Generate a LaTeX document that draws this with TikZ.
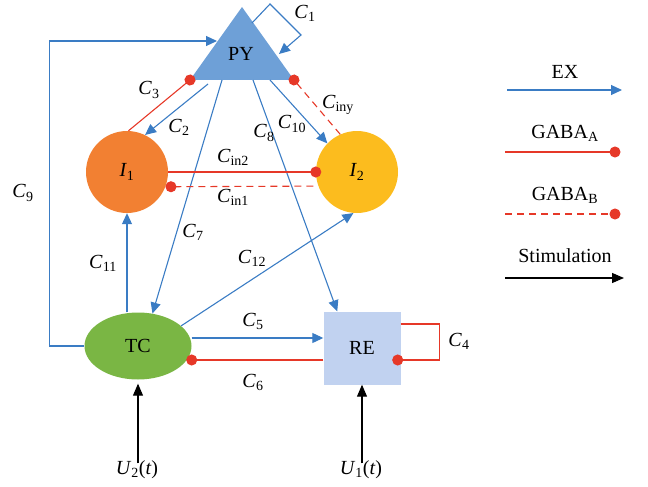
\documentclass[tikz,border=0pt]{standalone}
\usepackage{fontspec}
\setmainfont{Liberation Serif}
\usepackage{tikz}
\usetikzlibrary{arrows.meta}
\usetikzlibrary{shapes.geometric}
\definecolor{exblue}{RGB}{58,124,196}
\definecolor{gabred}{RGB}{230,56,40}
\definecolor{pycol}{RGB}{110,160,215}
\definecolor{inone}{RGB}{242,128,50}
\definecolor{intwo}{RGB}{252,188,30}
\definecolor{tccol}{RGB}{122,182,68}
\definecolor{recol}{RGB}{193,210,240}
\newcommand{\cn}[1]{\textit{C}\textsubscript{#1}}
\newcommand{\un}[1]{\textit{U}\textsubscript{#1}(\textit{t})}
\tikzset{
  ex/.style={draw=exblue, line width=1.1pt, -{Triangle[length=11pt,width=10pt]}},
  gabaa/.style={draw=gabred, line width=1.1pt, -{Circle[length=11pt]}, shorten >=-5.5pt},
  gabab/.style={gabaa, dash pattern=on 7pt off 5pt},
  stim/.style={line width=1.1pt, -{Triangle[length=12pt,width=10pt]}},
  popnode/.style={inner sep=0pt, minimum size=82pt, circle}
}

\begin{document}
\begin{tikzpicture}[x=1pt, y=-1pt, every node/.style={font=\fontsize{20}{24}\selectfont}]
\useasboundingbox (0,0) rectangle (648,487);

  % populations
  \coordinate (pytop) at (242,7);
  \coordinate (pyl) at (190,80);
  \coordinate (pyr) at (294,80);
  \fill[pycol] (pytop) -- (pyr) -- (pyl) -- cycle;
  \node (PY) at (241,54) {PY};
  \node[popnode, fill=inone] (I1) at (127,172) {\textit{I}\textsubscript{1}};
  \node[popnode, fill=intwo] (I2) at (357,172) {\textit{I}\textsubscript{2}};
  \node[ellipse, inner sep=0pt, minimum width=107pt, minimum height=67pt, fill=tccol] (TC) at (138,346) {TC};
  \node[rectangle, inner sep=0pt, minimum width=77pt, minimum height=73pt, fill=recol] (RE) at (362,348) {RE};

  % ports on the PY base
  \coordinate (pyc2) at (208,84);
  \coordinate (pyc7) at (222,80);
  \coordinate (pyc8) at (253,80);
  \coordinate (pyc10) at (270,80);
  \coordinate (pyc9) at (217,41);

  % self loop C1
  \coordinate (c1s) at (252,23);
  \coordinate (c1a) at (270,4);
  \coordinate (c1b) at (301,35);
  \coordinate (c1e) at (279,54);
  \draw[ex] (c1s) -- (c1a) -- (c1b) -- (c1e);
  \node (lc1) at (305,13) {\cn{1}};

  % PY connections
  \draw[gabaa] (I1.88) -- (pyl);
  \node (lc3) at (149,90) {\cn{3}};
  \draw[ex] (pyc2) -- (I1.64);
  \node (lc2) at (179,127) {\cn{2}};
  \draw[ex] (pyc7) -- (TC.66);
  \node (lc7) at (193,232) {\cn{7}};
  \draw[ex] (pyc8) -- (RE.124);
  \node (lc8) at (264,133) {\cn{8}};
  \draw[ex] (pyc10) -- (I2.136);
  \node (lc10) at (292,124) {\cn{10}};
  \draw[gabab] (I2.114) -- (pyr);
  \node (lciny) at (338,105) {\cn{iny}};
  \draw[ex] (TC.west) -- ++(-35,0) |- (pyc9);
  \node (lc9) at (23,193) {\cn{9}};

  % interneurons
  \draw[gabaa] (I1.east) -- (I2.west);
  \node (lcin2) at (233,157) {\cn{in2}};
  \draw[gabab, shorten >=0pt] ([xshift=-5pt]I2.200) -- (I1.-21);
  \node (lcin1) at (233,197) {\cn{in1}};

  % thalamus
  \draw[ex] (TC.north -| I1.south) -- (I1.south);
  \node (lc11) at (103,263) {\cn{11}};
  \draw[ex] (TC.25) -- (I2.265);
  \node (lc12) at (252,258) {\cn{12}};
  \draw[ex] ([yshift=8pt]TC.east) -- ([yshift=8pt]TC.east -| RE.west);
  \node (lc5) at (253,321) {\cn{5}};
  \draw[gabaa] ([yshift=-12pt]RE.west) -- ([yshift=-12pt]RE.west -| TC.east);
  \node (lc6) at (253,382) {\cn{6}};
  \draw[gabaa] ([yshift=24pt]RE.east) -- ++(39,0) |- ([yshift=-12pt,xshift=-3pt]RE.east);
  \node (lc4) at (459,341) {\cn{4}};

  % inputs
  \node (U2) at (137,470) {\un{2}};
  \node (U1) at (361,470) {\un{1}};
  \draw[stim] ([yshift=-6pt]U2.north -| TC.south) -- ([yshift=-4pt]TC.south);
  \draw[stim] ([yshift=-6pt]U1.north -| RE.south) -- (RE.south);

  % legend
  \node (lgex) at (565,72) {EX};
  \coordinate (exa) at (507,90);
  \coordinate (exb) at (622,90);
  \draw[ex] (exa) -- (exb);
  \node (lgga) at (565,133) {GABA\textsubscript{A}};
  \coordinate (gaa) at (505,152);
  \coordinate (gab) at (615,152);
  \draw[gabaa] (gaa) -- (gab);
  \node (lggb) at (565,195) {GABA\textsubscript{B}};
  \coordinate (gba) at (505,214);
  \coordinate (gbb) at (615,214);
  \draw[gabab] (gba) -- (gbb);
  \node (lgst) at (565,256) {Stimulation};
  \coordinate (sta) at (505,278);
  \coordinate (stb) at (624,278);
  \draw[stim] (sta) -- (stb);

\end{tikzpicture}
\end{document}
